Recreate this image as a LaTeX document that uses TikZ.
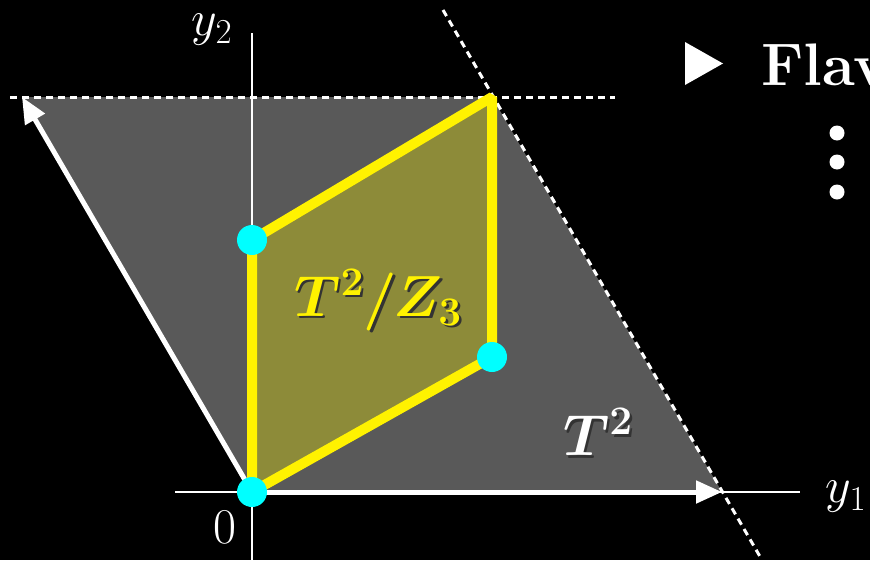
\RequirePackage{fix-cm}
\documentclass[tikz,border=0pt]{standalone}
\usetikzlibrary{arrows.meta}
\definecolor{torusgray}{RGB}{89,89,89}
\definecolor{orbiolive}{RGB}{141,139,57}
\definecolor{fixcyan}{RGB}{0,255,255}
\tikzset{
  axisline/.style={white,line width=2.5pt},
  lattice/.style={white,line width=5pt,-{Triangle[length=26pt,width=22pt]}},
  period/.style={white,line width=3pt,dash pattern=on 7pt off 5pt},
  fundom/.style={yellow,line width=10pt,line join=bevel},
  fixdot/.style={circle,fill=fixcyan,minimum size=30pt,inner sep=0pt},
  axlabel/.style={white,font=\fontsize{50}{60}\selectfont},
  biglabel/.style={font=\fontsize{58}{70}\selectfont\boldmath},
  shade/.style={biglabel,black!80,xshift=2.5pt,yshift=-2.5pt}
}
\begin{document}
\begin{tikzpicture}[x=1pt,y=-1pt]
\useasboundingbox (0,0) rectangle (870,560);
\fill[black] (0,0) rectangle (870,560);
% lattice points
\coordinate (O) at (252,492);
\coordinate (A) at (722,492);
\coordinate (B) at (22,97);
\coordinate (C) at (492,97);
\coordinate (P) at (492,357);
\coordinate (Q) at (252,240);
% axis ends
\coordinate (xl) at (175,492);
\coordinate (xr) at (800,492);
\coordinate (yt) at (252,33);
\coordinate (yb) at (252,560);
\coordinate (hl) at (10,97);
\coordinate (hr) at (615,97);
\coordinate (dt) at (443,10);
\coordinate (db) at (762,560);

\fill[torusgray] (O)--(A)--(C)--(B)--cycle;
\fill[orbiolive] (O)--(P)--(C)--(Q)--cycle;
\draw[axisline] (xl)--(xr);
\draw[axisline] (yb)--(yt);
\draw[period] (hl)--(hr);
\draw[period] (dt)--(db);
\draw[lattice] (O)--(A);
\draw[lattice] (O)--(B);
\draw[fundom] (O)--(P)--(C)--(Q)--cycle;
\foreach \p in {O,P,Q}
{
    \node[fixdot] (dot\p) at (\p) {};
}

\node[axlabel] (ylab2) at (212,30) {$y_2$};
\node[axlabel] (ylab1) at (846,497) {$y_1$};
\node[axlabel] (zero) at (225,527) {$0$};

\node[shade] at (378,300) {$T^2/Z_3$};
\node[biglabel,yellow] (orbi) at (378,300) {$T^2/Z_3$};
\node[shade] at (598,432) {$T^2$};
\node[biglabel,white] (torus) at (598,432) {$T^2$};

% item
\fill[white] (685,42)--(723,63.5)--(685,85)--cycle;
\node[white,anchor=base west,inner sep=0pt,font=\fontsize{60}{72}\selectfont\bfseries] (flav) at (761,85) {Flav};
\foreach \y in {133,162,192}
{
    \fill[white] (837,\y) circle (7.5);
}
\end{tikzpicture}
\end{document}
